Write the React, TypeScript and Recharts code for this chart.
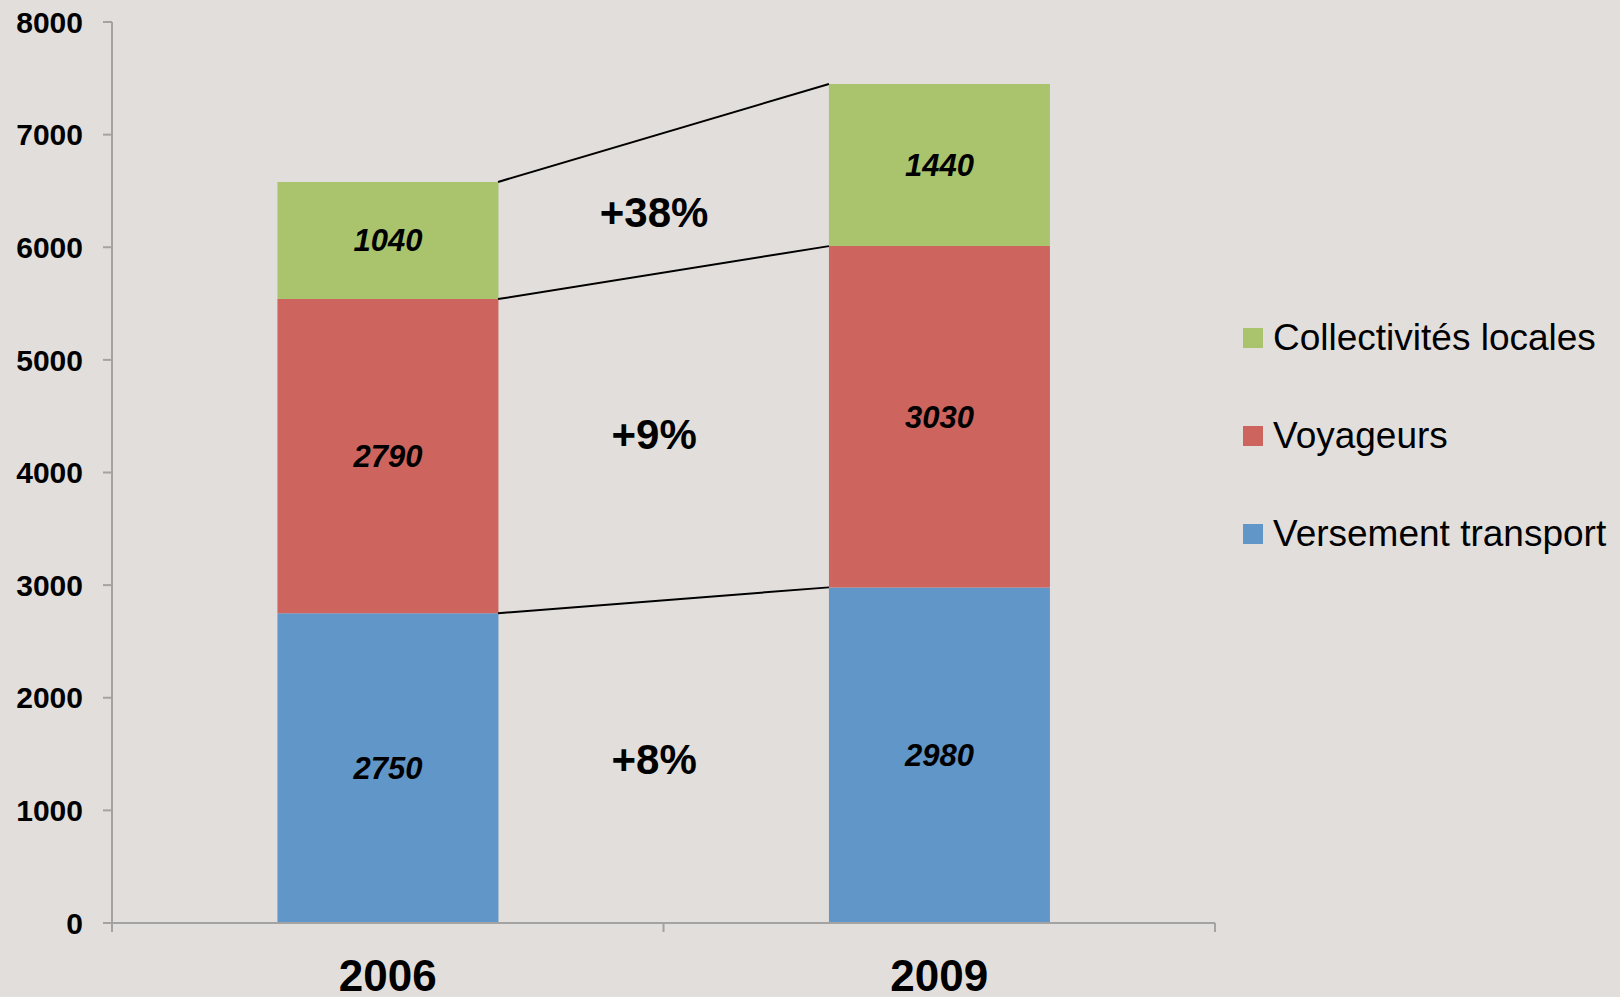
import React from 'react';
import { BarChart, Bar, XAxis, YAxis, LabelList, ReferenceLine, ReferenceDot, Legend } from 'recharts';

const years = ['2006', '2009'];
const versementTransport = [2750, 2980];
const voyageurs = [2790, 3030];
const collectivites = [1040, 1440];
const yTicks = [0, 1000, 2000, 3000, 4000, 5000, 6000, 7000, 8000];
const growthLabels = ['+8%', '+9%', '+38%'];
const growthLabelY = [1456, 4342, 6313];
const seriesNames = ['Versement transport', 'Voyageurs', 'Collectivités locales'];
const seriesKeys = ['vt', 'voy', 'col'];
const seriesColors = ['#6196c9', '#cd655e', '#a9c46c'];

const BG = '#e2dedb';
const AXIS = '#a3a3a3';
const BAR_GAP = 0.3;

const data = years.map((y, i) => ({
  year: y,
  pos: i,
  vt: versementTransport[i],
  voy: voyageurs[i],
  col: collectivites[i],
}));

const cumulative = (i: number) => {
  const a = versementTransport[i];
  const b = a + voyageurs[i];
  const c = b + collectivites[i];
  return [a, b, c];
};
const cum0 = cumulative(0);
const cum1 = cumulative(1);

const FONT = '"Liberation Sans", Arial, Helvetica, sans-serif';

const LegendContent = () => {
  const order = [2, 1, 0];
  return (
    <div style={{ fontFamily: FONT }}>
      {order.map((i) => (
        <div key={i} style={{ display: 'flex', alignItems: 'center', height: 98 }}>
          <div style={{ width: 20, height: 20, background: seriesColors[i], marginRight: 10 }} />
          <span style={{ fontSize: 37, color: '#000', whiteSpace: 'nowrap' }}>{seriesNames[i]}</span>
        </div>
      ))}
    </div>
  );
};

export default function App() {
  return (
    <div style={{ position: 'absolute', left: 0, top: 0, width: 1620, height: 997, background: BG }}>
      <BarChart
        width={1620}
        height={997}
        data={data}
        margin={{ top: 22, right: 405, bottom: 0, left: 0 }}
        barCategoryGap={`${BAR_GAP * 100}%`}
      >
        <XAxis
          dataKey="year"
          height={74}
          tickSize={0}
          tickMargin={37}
          tickLine={false}
          axisLine={{ stroke: AXIS, strokeWidth: 2 }}
          tick={{ fontSize: 44, fontWeight: 'bold', fill: '#000', fontFamily: FONT }}
        />
        <XAxis
          xAxisId="num"
          dataKey="pos"
          type="number"
          domain={[0, 2]}
          allowDataOverflow
          hide
        />
        <YAxis
          width={112}
          domain={[0, 8000]}
          ticks={yTicks}
          interval={0}
          tickSize={9}
          tickMargin={20}
          axisLine={{ stroke: AXIS, strokeWidth: 2 }}
          tickLine={{ stroke: AXIS, strokeWidth: 2 }}
          tick={{ fontSize: 30, fontWeight: 'bold', fill: '#000', fontFamily: FONT }}
        />
        {seriesKeys.map((k, i) => (
          <Bar key={k} dataKey={k} name={seriesNames[i]} stackId="a" fill={seriesColors[i]} isAnimationActive={false}>
            <LabelList
              dataKey={k}
              position="center"
              style={{ fontSize: 31, fontWeight: 'bold', fontStyle: 'italic', fill: '#000', fontFamily: FONT }}
            />
          </Bar>
        ))}
        {[0, 1, 2].map((x) => (
          <ReferenceLine
            key={'t' + x}
            xAxisId="num"
            segment={[{ x, y: 0 }, { x, y: -80 }]}
            stroke={AXIS}
            strokeWidth={2}
            ifOverflow="visible"
          />
        ))}
        {[0, 1, 2].map((j) => (
          <ReferenceLine
            key={'c' + j}
            xAxisId="num"
            segment={[{ x: 1 - BAR_GAP, y: cum0[j] }, { x: 1 + BAR_GAP, y: cum1[j] }]}
            stroke="#000"
            strokeWidth={2}
            ifOverflow="visible"
          />
        ))}
        {growthLabels.map((g, j) => (
          <ReferenceDot
            key={'g' + j}
            xAxisId="num"
            x={0.983}
            y={growthLabelY[j]}
            r={0}
            fill="none"
            stroke="none"
            label={{ value: g, position: 'center', fontSize: 42, fontWeight: 'bold', fill: '#000', fontFamily: FONT }}
          />
        ))}
        <Legend
          layout="vertical"
          align="center"
          verticalAlign="middle"
          content={<LegendContent />}
          wrapperStyle={{ left: 1243, top: 289, width: 377 }}
        />
      </BarChart>
    </div>
  );
}
